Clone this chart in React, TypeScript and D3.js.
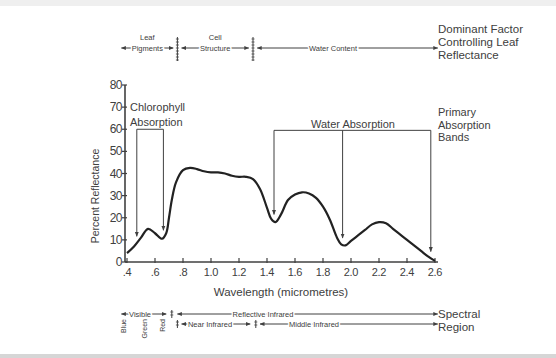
import React, { useEffect, useRef } from 'react';
import * as d3 from 'd3';

// Leaf spectral reflectance curve
const wavelength = [0.4, 0.45, 0.5, 0.55, 0.6, 0.65, 0.68, 0.7, 0.72, 0.75, 0.8, 0.85, 0.9, 0.95, 1.0, 1.05, 1.1, 1.15, 1.2, 1.25, 1.3, 1.35, 1.4, 1.43, 1.46, 1.5, 1.55, 1.6, 1.65, 1.7, 1.75, 1.8, 1.85, 1.9, 1.93, 1.96, 2.0, 2.05, 2.1, 2.15, 2.2, 2.25, 2.3, 2.35, 2.4, 2.45, 2.5, 2.55, 2.6];
const reflectance = [4, 7, 11, 15, 13, 10.5, 13, 20, 28, 36, 41.5, 42.5, 42, 41, 40.5, 40.5, 40, 39, 38.5, 38.5, 37.5, 33, 24.5, 19.5, 18, 21.5, 28, 30.5, 31.5, 31, 29, 25, 19, 11, 8, 7.5, 9.5, 12, 14.5, 17, 18, 17.5, 15, 12.5, 10, 7.5, 5, 2.5, 0.5];

const xTicks = [0.4, 0.6, 0.8, 1.0, 1.2, 1.4, 1.6, 1.8, 2.0, 2.2, 2.4, 2.6];
const xTickLabels = ['.4', '.6', '.8', '1.0', '1.2', '1.4', '1.6', '1.8', '2.0', '2.2', '2.4', '2.6'];
const yTicks = [0, 10, 20, 30, 40, 50, 60, 70, 80];

const chlorophyllBands = [0.47, 0.66];
const waterBands = [1.45, 1.94, 2.57];

// boundaries (micrometres) used by the annotation rows
const factorRegions = [
  { label: ['Leaf', 'Pigments'], from: 0.36, to: 0.73 },
  { label: ['Cell', 'Structure'], from: 0.79, to: 1.27 },
  { label: ['', 'Water Content'], from: 1.33, to: 2.62 },
];
const factorDividers = [0.76, 1.3];
const regionRow1 = [
  { label: 'Visible', from: 0.36, to: 0.68 },
  { label: 'Reflective Infrared', from: 0.76, to: 2.62 },
];
const regionRow2 = [
  { label: 'Near Infrared', from: 0.79, to: 1.28 },
  { label: 'Middle Infrared', from: 1.35, to: 2.62 },
];
const row1Dividers = [0.72];
const row2Dividers = [0.76, 1.32];
const colourBands = [
  { label: 'Blue', at: 0.38 },
  { label: 'Green', at: 0.53 },
  { label: 'Red', at: 0.66 },
];

const INK = '#404040';
const FONT = '"Liberation Sans", Arial, sans-serif';

const App = () => {
  const svgRef = useRef<SVGSVGElement>(null);

  useEffect(() => {
    const width = 556;
    const height = 358;
    const svg = d3.select(svgRef.current).attr('width', width).attr('height', height);
    svg.selectAll('*').remove();

    // paper background + faint scan edges
    svg.append('rect').attr('width', width).attr('height', height).attr('fill', '#fff');
    svg.append('rect').attr('width', width).attr('height', 6).attr('fill', '#efefef');
    svg.append('rect').attr('y', 354).attr('width', width).attr('height', 4).attr('fill', '#d6d6d6');

    const defs = svg.append('defs');
    defs.append('marker')
      .attr('id', 'arr')
      .attr('viewBox', '0 0 10 10')
      .attr('refX', 9).attr('refY', 5)
      .attr('markerWidth', 5).attr('markerHeight', 5)
      .attr('orient', 'auto-start-reverse')
      .append('path')
      .attr('d', 'M0,1 L10,5 L0,9 Z')
      .attr('fill', INK);

    const x = d3.scaleLinear().domain([0.4, 2.6]).range([127, 435]);
    const y = d3.scaleLinear().domain([0, 80]).range([262, 85]);
    const axisX = 125;

    // axes
    svg.append('line').attr('x1', axisX).attr('x2', axisX).attr('y1', y(80)).attr('y2', y(0))
      .attr('stroke', INK).attr('stroke-width', 1.6);
    svg.append('line').attr('x1', axisX).attr('x2', x(2.6) + 3).attr('y1', y(0)).attr('y2', y(0))
      .attr('stroke', INK).attr('stroke-width', 1.6);

    yTicks.forEach(t => {
      svg.append('line').attr('x1', axisX - 3).attr('x2', axisX + 2).attr('y1', y(t)).attr('y2', y(t))
        .attr('stroke', INK).attr('stroke-width', 1.2);
      svg.append('text').attr('x', axisX - 3).attr('y', y(t) + 4).attr('text-anchor', 'end')
        .attr('font-size', 12).attr('fill', INK).attr('font-family', FONT).attr('letter-spacing', -0.5)
        .text(t);
    });
    xTicks.forEach((t, i) => {
      svg.append('line').attr('x1', x(t)).attr('x2', x(t)).attr('y1', y(0) - 4).attr('y2', y(0) + 1)
        .attr('stroke', INK).attr('stroke-width', 1.2);
      svg.append('text').attr('x', x(t)).attr('y', y(0) + 14).attr('text-anchor', 'middle')
        .attr('font-size', 11).attr('fill', INK).attr('font-family', FONT).attr('letter-spacing', -0.3)
        .text(xTickLabels[i]);
    });

    svg.append('text').attr('x', 281).attr('y', 296).attr('text-anchor', 'middle')
      .attr('font-size', 11.5).attr('fill', INK).attr('font-family', FONT)
      .text('Wavelength  (micrometres)');
    svg.append('text').attr('transform', 'translate(99,196) rotate(-90)').attr('text-anchor', 'middle')
      .attr('font-size', 10.5).attr('fill', INK).attr('font-family', FONT)
      .text('Percent Reflectance');

    // reflectance curve
    const pts: [number, number][] = wavelength.map((w, i) => [w, reflectance[i]]);
    const line = d3.line<[number, number]>()
      .x(d => x(d[0])).y(d => y(d[1]))
      .curve(d3.curveCatmullRom.alpha(0.5));
    svg.append('path').datum(pts).attr('d', line)
      .attr('fill', 'none').attr('stroke', '#222').attr('stroke-width', 2.2);

    const valueAt = (w: number) => {
      const i = d3.bisectRight(wavelength, w);
      if (i <= 0) return reflectance[0];
      if (i >= wavelength.length) return reflectance[reflectance.length - 1];
      const t = (w - wavelength[i - 1]) / (wavelength[i] - wavelength[i - 1]);
      return reflectance[i - 1] + t * (reflectance[i] - reflectance[i - 1]);
    };

    // absorption brackets with arrows
    const bracket = (bands: number[], level: number) => {
      svg.append('line').attr('x1', x(bands[0])).attr('x2', x(bands[bands.length - 1]))
        .attr('y1', y(level)).attr('y2', y(level)).attr('stroke', INK).attr('stroke-width', 1);
      bands.forEach(b => {
        svg.append('line').attr('x1', x(b)).attr('x2', x(b))
          .attr('y1', y(level)).attr('y2', y(valueAt(b) + 3))
          .attr('stroke', INK).attr('stroke-width', 1).attr('marker-end', 'url(#arr)');
      });
    };
    bracket(chlorophyllBands, 60);
    bracket(waterBands, 59.5);

    const label = (lines: string[], lx: number, ly: number, size: number, anchor = 'start', lh = 13) => {
      const t = svg.append('text').attr('x', lx).attr('y', ly).attr('text-anchor', anchor)
        .attr('font-size', size).attr('fill', INK).attr('font-family', FONT);
      lines.forEach((s, i) => t.append('tspan').attr('x', lx).attr('dy', i === 0 ? 0 : lh).text(s));
    };
    label(['Chlorophyll', 'Absorption'], 130, 111, 11, 'start', 15);
    label(['Water  Absorption'], 353, 128, 11, 'middle');
    label(['Primary', 'Absorption', 'Bands'], 438, 116, 11, 'start', 12.5);
    label(['Dominant Factor', 'Controlling Leaf', 'Reflectance'], 438, 33, 11.5, 'start', 13);
    label(['Spectral', 'Region'], 438, 318, 11.5, 'start', 13);

    // annotation rows (arrowed spans)
    const span = (from: number, to: number, yy: number, text: string, tx: number, size: number) => {
      svg.append('line').attr('x1', x(from)).attr('x2', x(to)).attr('y1', yy).attr('y2', yy)
        .attr('stroke', INK).attr('stroke-width', 1)
        .attr('marker-start', 'url(#arr)').attr('marker-end', 'url(#arr)');
      if (text) {
        svg.append('text').attr('x', tx).attr('y', yy + size * 0.35).attr('text-anchor', 'middle')
          .attr('font-size', size).attr('fill', INK).attr('font-family', FONT)
          .attr('stroke', '#fff').attr('stroke-width', 3).attr('paint-order', 'stroke')
          .text(text);
      }
    };
    const divider = (at: number, y1: number, y2: number) => {
      svg.append('line').attr('x1', x(at)).attr('x2', x(at)).attr('y1', y1).attr('y2', y2)
        .attr('stroke', INK).attr('stroke-width', 1);
      for (let yy = y1 + 2; yy < y2; yy += 3) {
        svg.append('line').attr('x1', x(at) - 1.5).attr('x2', x(at) + 1.5).attr('y1', yy).attr('y2', yy)
          .attr('stroke', INK).attr('stroke-width', 0.8);
      }
    };

    // top row: dominant factor
    factorRegions.forEach(r => {
      const cx = r.label[0] === '' ? 333 : (x(r.from) + x(r.to)) / 2;
      span(r.from, r.to, 48, r.label[1], cx, 7.5);
      if (r.label[0]) {
        svg.append('text').attr('x', cx).attr('y', 40).attr('text-anchor', 'middle')
          .attr('font-size', 7.5).attr('fill', INK).attr('font-family', FONT).text(r.label[0]);
      }
    });
    factorDividers.forEach(d => divider(d, 37, 61));

    // bottom rows: spectral region
    regionRow1.forEach(r => span(r.from, r.to, 314, r.label, r.label === 'Visible' ? 140 : 263, 7.5));
    regionRow2.forEach(r => span(r.from, r.to, 324, r.label, r.label === 'Near Infrared' ? 210 : 314, 7.5));
    row1Dividers.forEach(d => divider(d, 310, 318));
    row2Dividers.forEach(d => divider(d, 320, 328));
    colourBands.forEach(c => {
      svg.append('text').attr('transform', `translate(${x(c.at) + 2},${319}) rotate(-90)`)
        .attr('text-anchor', 'end').attr('font-size', 7).attr('fill', INK).attr('font-family', FONT)
        .text(c.label);
    });
  }, []);

  return (
    <div style={{ position: 'absolute', left: 0, top: 0 }}>
      <svg ref={svgRef} width={556} height={358} style={{ display: 'block' }}></svg>
    </div>
  );
};

export default App;
